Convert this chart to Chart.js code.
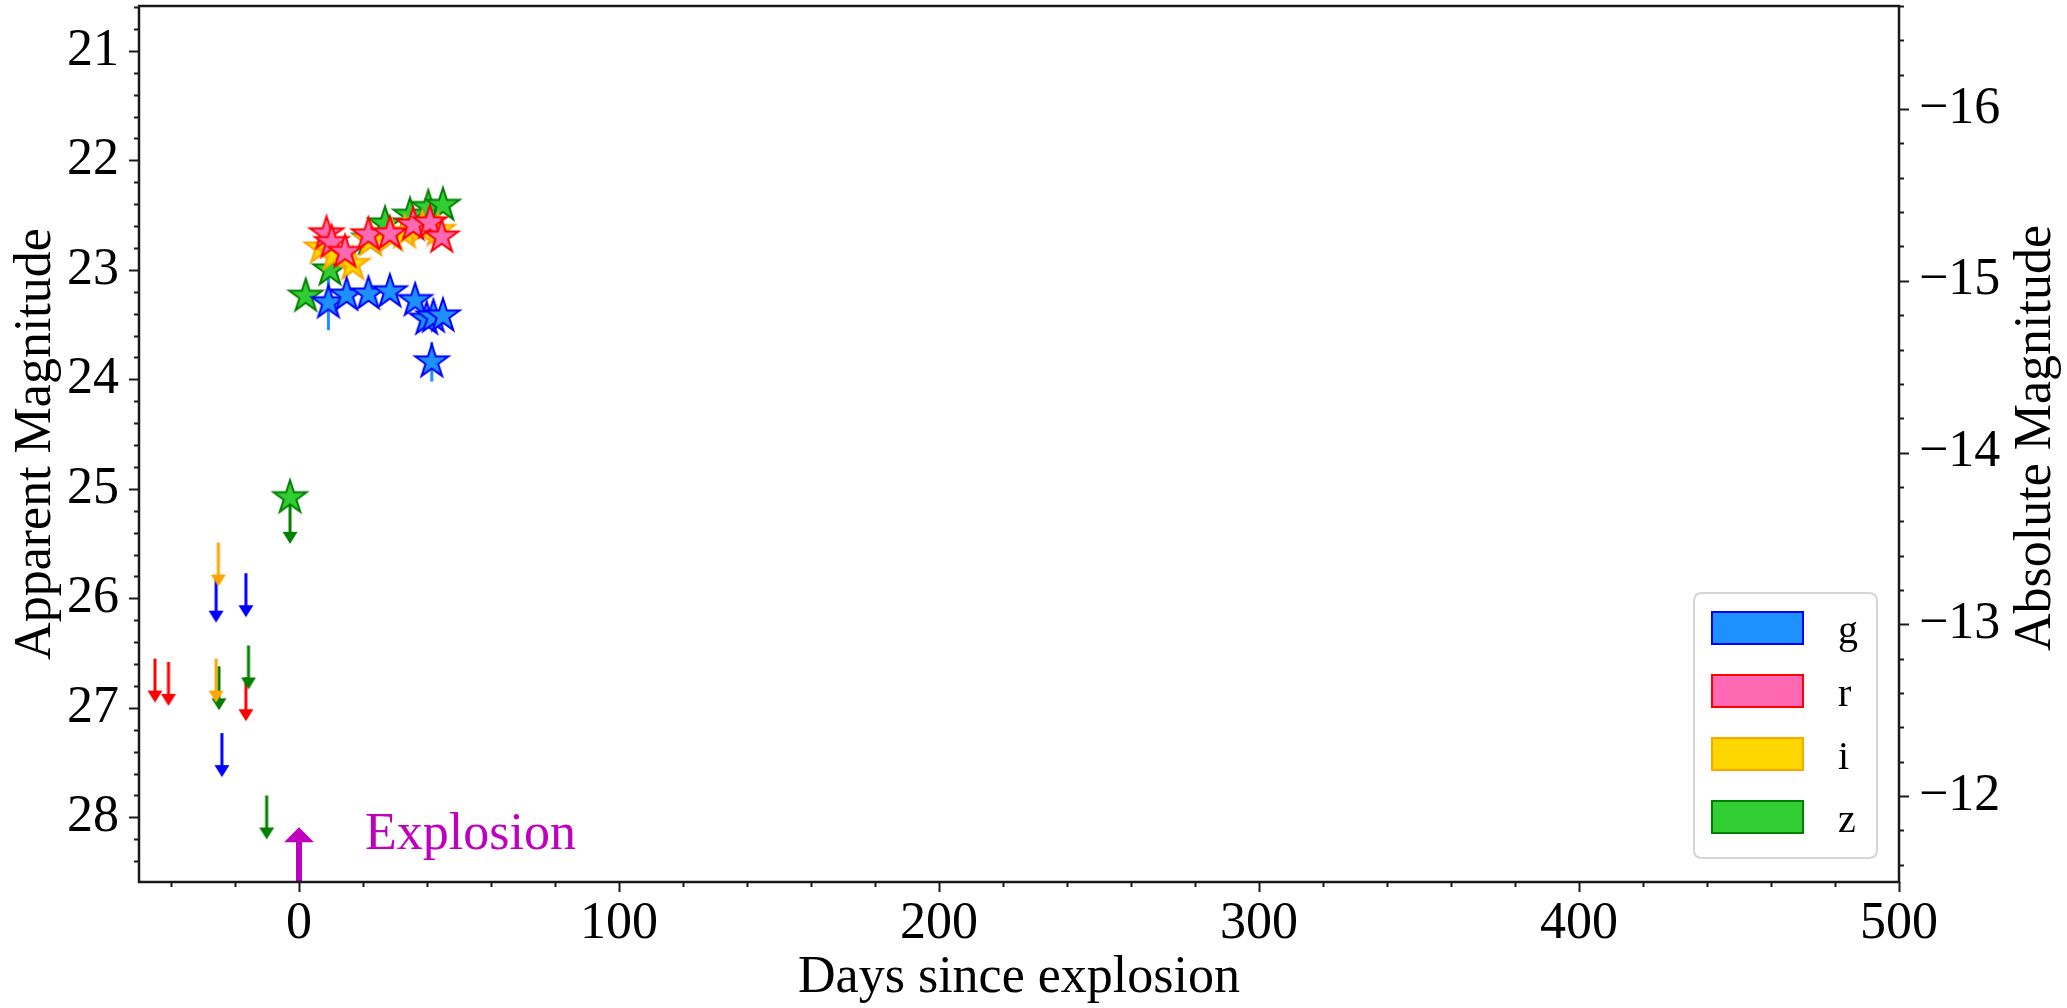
<!DOCTYPE html>
<html><head><meta charset="utf-8">
<script src="https://cdn.jsdelivr.net/npm/chart.js@4/dist/chart.umd.min.js"></script>
<style>html,body{margin:0;padding:0;background:#fff;}#wrap{width:2067px;height:1008px;position:relative;}</style>
</head><body><div id="wrap"><canvas id="c" width="2067" height="1008" style="width:2067px;height:1008px"></canvas></div>
<script>
// ---------------- data ----------------
const gDays = [9.2, 14.9, 21.7, 28.4, 36.3, 39.9, 41.5, 42.0, 45.0];
const gMags = [23.30, 23.23, 23.22, 23.20, 23.28, 23.45, 23.84, 23.43, 23.42];
const gErrs = [0.25, 0.05, 0.05, 0.05, 0.06, 0.08, 0.18, 0.10, 0.08];

const rDays = [8.6, 10.2, 14.4, 21.7, 28.4, 35.7, 40.9, 44.6];
const rMags = [22.67, 22.75, 22.84, 22.68, 22.67, 22.59, 22.57, 22.70];
const rErrs = [0.06, 0.06, 0.06, 0.05, 0.05, 0.05, 0.05, 0.06];

const iDays = [7.0, 11.0, 16.8, 22.5, 29.0, 33.0, 38.5, 43.5];
const iMags = [22.80, 22.86, 22.95, 22.73, 22.69, 22.66, 22.62, 22.64];
const iErrs = [0.06, 0.06, 0.06, 0.05, 0.05, 0.05, 0.05, 0.05];

const zDays = [2.1, 9.7, 22.0, 26.9, 34.7, 40.4, 45.0];
const zMags = [23.24, 23.00, 22.72, 22.58, 22.50, 22.43, 22.41];
const zErrs = [0.06, 0.06, 0.05, 0.05, 0.05, 0.05, 0.05];
const zDetDays = [-2.8];
const zDetMags = [25.08];

// upper limits (magnitude at top of arrow)
const gLimDays = [-25.9, -16.6, -24.1];
const gLimMags = [25.82, 25.77, 27.23];
const rLimDays = [-45.0, -40.8, -16.6];
const rLimMags = [26.55, 26.58, 26.72];
const iLimDays = [-25.2, -25.9];
const iLimMags = [25.49, 26.55];
const zLimDays = [-25.0, -15.8, -10.1, -2.8];
const zLimMags = [26.62, 26.43, 27.80, 25.10];

const explosionDay = [0];
const explosionTipMag = [28.09];
const explosionText = 'Explosion';

const xTickValues = [0, 100, 200, 300, 400, 500];
const yTickValues = [21, 22, 23, 24, 25, 26, 27, 28];
const absTickValues = [-16, -15, -14, -13, -12];
const legendLabels = ['g', 'r', 'i', 'z'];
const xTitle = 'Days since explosion';
const yTitle = 'Apparent Magnitude';
const y2Title = 'Absolute Magnitude';

// ---------------- styles ----------------
const FONT = '"Liberation Serif", "DejaVu Serif", serif';
const fills = { g: '#1E90FF', r: '#FF69B4', i: '#FFD700', z: '#32CD32' };
const edges = { g: '#0000FF', r: '#FF0000', i: '#FFA500', z: '#008000' };
const MAG = '#BF00BF';

const toPts = (xs, ys) => xs.map((x, k) => ({ x, y: ys[k] }));

function starCanvas(fill, stroke) {
  const R = 17.5, lw = 2, s = 44;
  const c = document.createElement('canvas'); c.width = s; c.height = s;
  const ctx = c.getContext('2d');
  ctx.translate(s / 2, s / 2);
  ctx.beginPath();
  for (let k = 0; k < 10; k++) {
    const r = k % 2 === 0 ? R : R * 0.381966;
    const a = -Math.PI / 2 + k * Math.PI / 5;
    ctx.lineTo(r * Math.cos(a), r * Math.sin(a));
  }
  ctx.closePath();
  ctx.fillStyle = fill; ctx.fill();
  ctx.lineWidth = lw; ctx.strokeStyle = stroke; ctx.lineJoin = 'miter'; ctx.stroke();
  return c;
}
function arrowCanvas(color) {
  const L = 44, head = 12, hw = 7.5, lw = 3, w = 18, h = 2 * L + 4;
  const c = document.createElement('canvas'); c.width = w; c.height = h;
  const ctx = c.getContext('2d');
  const cx = w / 2, cy = h / 2;
  ctx.strokeStyle = color; ctx.lineWidth = lw;
  ctx.beginPath(); ctx.moveTo(cx, cy); ctx.lineTo(cx, cy + L - head + 1); ctx.stroke();
  ctx.fillStyle = color;
  ctx.beginPath(); ctx.moveTo(cx - hw, cy + L - head); ctx.lineTo(cx + hw, cy + L - head); ctx.lineTo(cx, cy + L); ctx.closePath(); ctx.fill();
  return c;
}

const starDs = (band, xs, ys, errs) => ({
  label: band, data: toPts(xs, ys), errs: errs, errColor: fills[band],
  pointStyle: starCanvas(fills[band], edges[band]), pointRadius: 5, showLine: false, xAxisID: 'x', yAxisID: 'y'
});
const limDs = (band, xs, ys) => ({
  label: band + ' limit', data: toPts(xs, ys),
  pointStyle: arrowCanvas(edges[band]), pointRadius: 5, showLine: false, xAxisID: 'x', yAxisID: 'y'
});

const datasets = [
  starDs('r', rDays, rMags, rErrs),
  starDs('g', gDays, gMags, gErrs),
  starDs('i', iDays, iMags, iErrs),
  starDs('z', zDetDays, zDetMags, null),
  starDs('z', zDays, zMags, zErrs),
  limDs('i', iLimDays, iLimMags),
  limDs('g', gLimDays, gLimMags),
  limDs('z', zLimDays, zLimMags),
  limDs('r', rLimDays, rLimMags)
];

// ---------------- plugins ----------------
const errorBars = {
  id: 'errorBars',
  beforeDatasetsDraw(chart) {
    const ctx = chart.ctx, y = chart.scales.y, x = chart.scales.x;
    ctx.save();
    ctx.beginPath(); ctx.rect(chart.chartArea.left, chart.chartArea.top, chart.chartArea.right - chart.chartArea.left, chart.chartArea.bottom - chart.chartArea.top); ctx.clip();
    chart.data.datasets.forEach(ds => {
      if (!ds.errs) return;
      ctx.strokeStyle = ds.errColor; ctx.lineWidth = 3;
      ds.data.forEach((p, k) => {
        const px = x.getPixelForValue(p.x);
        ctx.beginPath();
        ctx.moveTo(px, y.getPixelForValue(p.y - ds.errs[k]));
        ctx.lineTo(px, y.getPixelForValue(p.y + ds.errs[k]));
        ctx.stroke();
      });
    });
    ctx.restore();
  }
};

const frameAndTicks = {
  id: 'frameAndTicks',
  afterDraw(chart) {
    const ctx = chart.ctx, a = chart.chartArea;
    const x = chart.scales.x, y = chart.scales.y, y2 = chart.scales.y2;
    ctx.save();
    ctx.strokeStyle = '#1a1a1a';
    ctx.lineWidth = 2;
    for (let v = -40; v <= 500.001; v += 20) {
      const px = Math.round(x.getPixelForValue(v)) + 0.5;
      const len = (Math.abs(v % 100) < 1e-6) ? 10 : 5;
      ctx.beginPath(); ctx.moveTo(px, a.bottom); ctx.lineTo(px, a.bottom + len); ctx.stroke();
    }
    for (let v = 20.6; v <= y.max + 1e-6; v += 0.2) {
      const vv = Math.round(v * 10) / 10;
      const py = Math.round(y.getPixelForValue(vv)) + 0.5;
      const len = (Math.abs(vv - Math.round(vv)) < 1e-6) ? 10 : 5;
      ctx.beginPath(); ctx.moveTo(a.left, py); ctx.lineTo(a.left - len, py); ctx.stroke();
    }
    for (let v = -16.6; v <= y2.max + 1e-6; v += 0.2) {
      const vv = Math.round(v * 10) / 10;
      const py = Math.round(y2.getPixelForValue(vv)) + 0.5;
      const len = (Math.abs(vv - Math.round(vv)) < 1e-6) ? 10 : 5;
      ctx.beginPath(); ctx.moveTo(a.right, py); ctx.lineTo(a.right + len, py); ctx.stroke();
    }
    ctx.lineWidth = 2.5;
    ctx.strokeRect(a.left, a.top, a.right - a.left, a.bottom - a.top);

    ctx.fillStyle = '#000';
    ctx.font = '52px ' + FONT;
    ctx.textAlign = 'center'; ctx.textBaseline = 'middle';
    ctx.translate(2036, (a.top + a.bottom) / 2 - 6);
    ctx.rotate(-Math.PI / 2);
    ctx.fillText(y2Title, 0, 0);
    ctx.restore();
  }
};

const explosion = {
  id: 'explosion',
  afterDatasetsDraw(chart) {
    const ctx = chart.ctx, a = chart.chartArea, x = chart.scales.x, y = chart.scales.y;
    ctx.save();
    explosionDay.forEach((d, k) => {
      const px = x.getPixelForValue(d);
      const tip = y.getPixelForValue(explosionTipMag[k]);
      const headLen = 15, headW = 15;
      ctx.strokeStyle = MAG; ctx.fillStyle = MAG; ctx.lineWidth = 6;
      ctx.beginPath(); ctx.moveTo(px, a.bottom); ctx.lineTo(px, tip + headLen - 1); ctx.stroke();
      ctx.beginPath(); ctx.moveTo(px - headW, tip + headLen); ctx.lineTo(px + headW, tip + headLen); ctx.lineTo(px, tip); ctx.closePath(); ctx.fill();
      ctx.font = '52px ' + FONT; ctx.textAlign = 'left'; ctx.textBaseline = 'alphabetic';
      ctx.fillText(explosionText, px + 66, tip + 22);
    });
    ctx.restore();
  }
};

const boxLegend = {
  id: 'boxLegend',
  afterDraw(chart) {
    const ctx = chart.ctx;
    const bx = 1694, by = 593, bw = 183, bh = 265, r = 8;
    ctx.save();
    ctx.beginPath();
    ctx.moveTo(bx + r, by); ctx.lineTo(bx + bw - r, by); ctx.quadraticCurveTo(bx + bw, by, bx + bw, by + r);
    ctx.lineTo(bx + bw, by + bh - r); ctx.quadraticCurveTo(bx + bw, by + bh, bx + bw - r, by + bh);
    ctx.lineTo(bx + r, by + bh); ctx.quadraticCurveTo(bx, by + bh, bx, by + bh - r);
    ctx.lineTo(bx, by + r); ctx.quadraticCurveTo(bx, by, bx + r, by);
    ctx.closePath();
    ctx.fillStyle = 'rgba(255,255,255,0.85)'; ctx.fill();
    ctx.strokeStyle = '#d6d6d6'; ctx.lineWidth = 2; ctx.stroke();
    legendLabels.forEach((b, k) => {
      const cy = 628 + k * 63;
      ctx.fillStyle = fills[b]; ctx.fillRect(1712, cy - 16, 91, 32);
      ctx.strokeStyle = edges[b]; ctx.lineWidth = 2; ctx.strokeRect(1712, cy - 16, 91, 32);
      ctx.fillStyle = '#000'; ctx.font = '40px ' + FONT; ctx.textAlign = 'left'; ctx.textBaseline = 'alphabetic';
      ctx.fillText(b, 1838, cy + 15);
    });
    ctx.restore();
  }
};

const setTicks = vals => scale => { scale.ticks = vals.map(v => ({ value: v })); };
const noPad = s => { s.paddingTop = 0; s.paddingBottom = 0; s.paddingLeft = 0; s.paddingRight = 0; };

new Chart(document.getElementById('c'), {
  type: 'scatter',
  data: { datasets },
  options: {
    responsive: false, animation: false, events: [],
    devicePixelRatio: 1,
    layout: { padding: { top: 6, right: 0, bottom: 0, left: 0 } },
    plugins: { legend: { display: false }, tooltip: { enabled: false }, title: { display: false } },
    scales: {
      x: {
        type: 'linear', position: 'bottom', min: -50, max: 500,
        grid: { display: false, drawTicks: false }, border: { display: false },
        afterBuildTicks: setTicks(xTickValues),
        ticks: { font: { family: FONT, size: 52 }, color: '#000', padding: 11, maxRotation: 0, autoSkip: false },
        title: { display: true, text: xTitle, color: '#000', font: { family: FONT, size: 52, lineHeight: 1.0 }, padding: { top: 0, bottom: 4 } },
        afterFit: s => { s.height = 126; noPad(s); }
      },
      y: {
        type: 'linear', position: 'left', min: 20.59, max: 28.59, reverse: true,
        grid: { display: false, drawTicks: false }, border: { display: false },
        afterBuildTicks: setTicks(yTickValues),
        ticks: { font: { family: FONT, size: 52 }, color: '#000', padding: 20, autoSkip: false },
        title: { display: true, text: yTitle, color: '#000', font: { family: FONT, size: 52 }, padding: { top: 5, bottom: 0 } },
        afterFit: s => { s.width = 139; noPad(s); }
      },
      y2: {
        type: 'linear', position: 'right', min: -16.6, max: -11.5, reverse: true,
        grid: { display: false, drawTicks: false }, border: { display: false },
        afterBuildTicks: setTicks(absTickValues),
        ticks: { font: { family: FONT, size: 52 }, color: '#000', padding: 20, autoSkip: false,
                 callback: v => '\u2212' + Math.abs(v) },
        afterFit: s => { s.width = 168; noPad(s); }
      }
    }
  },
  plugins: [errorBars, frameAndTicks, explosion, boxLegend]
});
</script></body></html>
